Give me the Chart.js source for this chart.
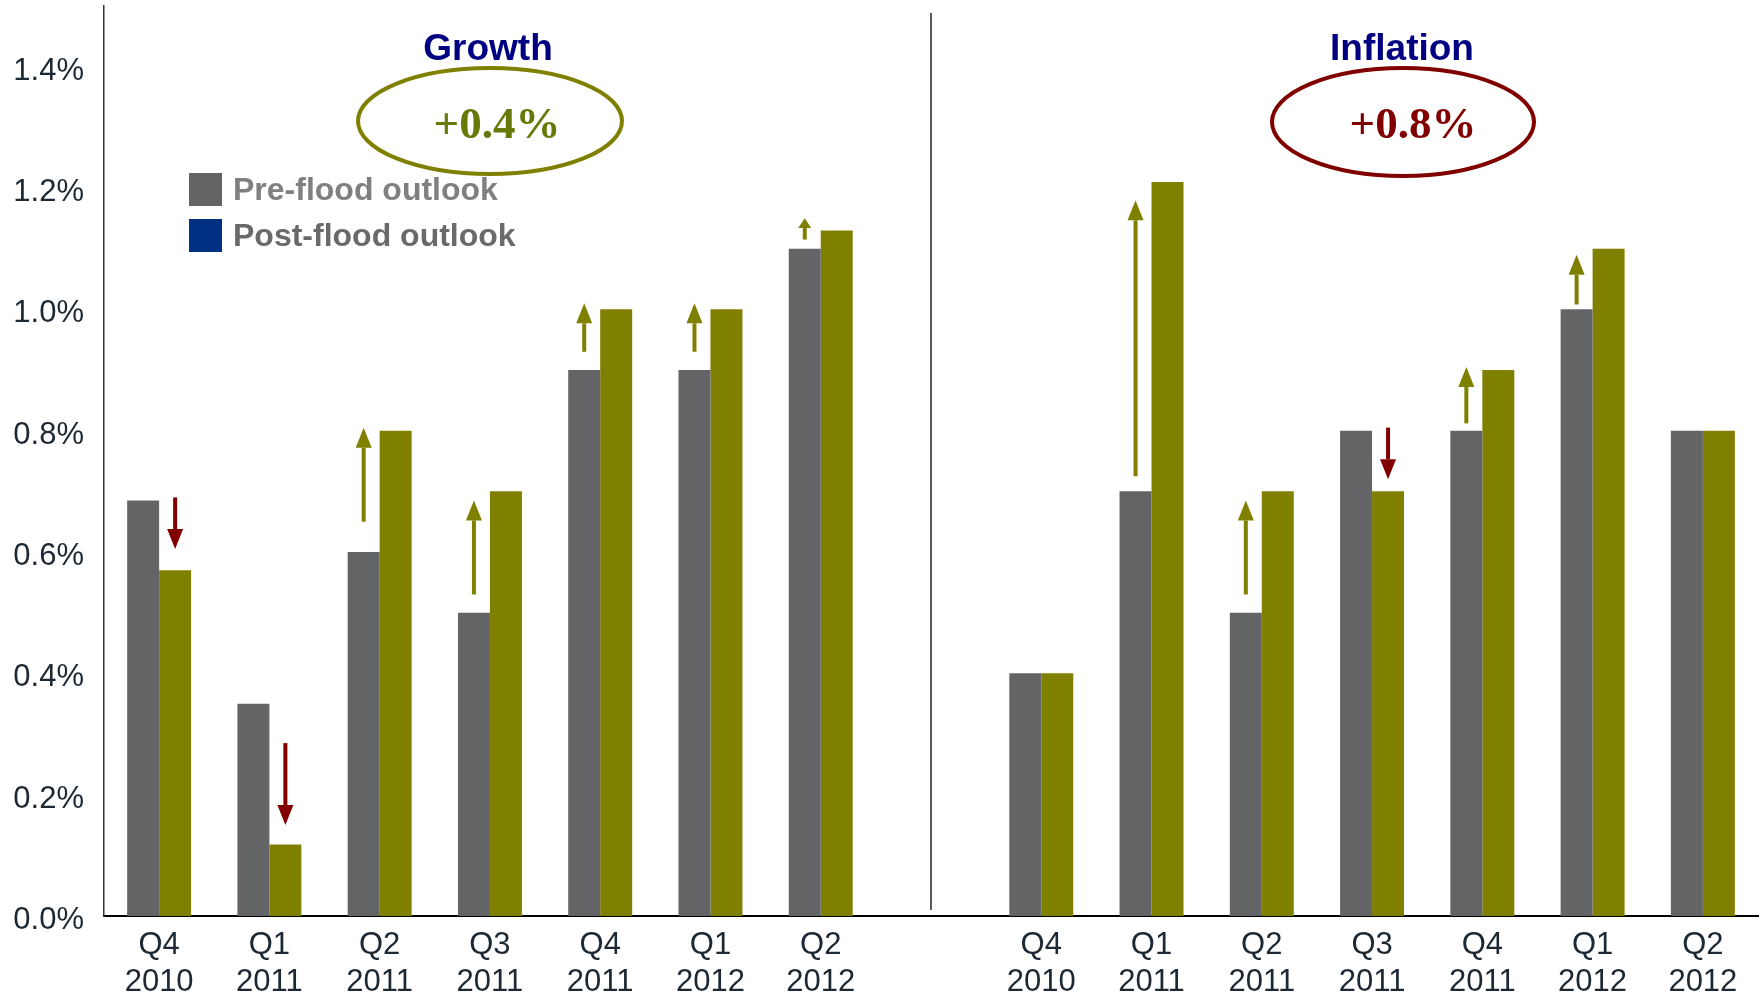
<!DOCTYPE html>
<html>
<head>
<meta charset="utf-8">
<title>Growth and inflation outlook</title>
<script src="https://cdn.jsdelivr.net/npm/chart.js@4.4.1/dist/chart.umd.min.js"></script>
<style>
  html, body { margin: 0; padding: 0; background: #fff; }
  #wrap { width: 1762px; height: 997px; position: relative; }
</style>
</head>
<body>
<div id="wrap"><canvas id="chart"></canvas></div>
<script>
// quarters shown under each panel
const quarters = [["Q4", "2010"], ["Q1", "2011"], ["Q2", "2011"], ["Q3", "2011"], ["Q4", "2011"], ["Q1", "2012"], ["Q2", "2012"]];
const seriesNames = ["Pre-flood outlook", "Post-flood outlook"];
const panelTitles = ["Growth", "Inflation"];
const panelChanges = ["+0.4%", "+0.8%"];
const yTickValues = [0, 0.2, 0.4, 0.6, 0.8, 1.0, 1.2, 1.4];

// values in %
const growthPre = [0.685, 0.35, 0.6, 0.5, 0.9, 0.9, 1.1];
const growthPost = [0.57, 0.118, 0.8, 0.7, 1.0, 1.0, 1.13];
const inflationPre = [0.4, 0.7, 0.5, 0.8, 0.8, 1.0, 0.8];
const inflationPost = [0.4, 1.21, 0.7, 0.7, 0.9, 1.1, 0.8];

// revision arrows (start / tip, in %), null = no arrow
const growthArrowFrom = [0.69, 0.285, 0.65, 0.53, 0.93, 0.93, 1.115];
const growthArrowTo = [0.605, 0.15, 0.805, 0.685, 1.01, 1.01, 1.15];
const inflationArrowFrom = [null, 0.725, 0.53, 0.805, 0.812, 1.008, null];
const inflationArrowTo = [null, 1.18, 0.685, 0.72, 0.905, 1.09, null];

const GRAY = "#636466";
const OLIVE = "#808000";
const DARKRED = "#800000";
const NAVY = "#000080";
const TEXT = "#1c2833";
const SANS = "'Liberation Sans', Arial, sans-serif";
const SERIF = "'Liberation Serif', 'Times New Roman', serif";

// one category axis, the empty middle slot separates the two panels
const labels = [...quarters, "", ...quarters];
const preData = [...growthPre, null, ...inflationPre];
const postData = [...growthPost, null, ...inflationPost];
const arrowFrom = [...growthArrowFrom, null, ...inflationArrowFrom];
const arrowTo = [...growthArrowTo, null, ...inflationArrowTo];

function drawArrow(ctx, x, y0, y1, color) {
  const dir = y1 > y0 ? 1 : -1;
  const len = Math.abs(y1 - y0);
  const headLen = Math.min(20, len * 0.45);
  const halfW = headLen > 12 ? 8 : 6.5;
  ctx.strokeStyle = color;
  ctx.fillStyle = color;
  ctx.lineWidth = 4;
  ctx.beginPath();
  ctx.moveTo(x, y0);
  ctx.lineTo(x, y1 - dir * headLen);
  ctx.stroke();
  ctx.beginPath();
  ctx.moveTo(x, y1);
  ctx.lineTo(x - halfW, y1 - dir * headLen);
  ctx.lineTo(x + halfW, y1 - dir * headLen);
  ctx.closePath();
  ctx.fill();
}

const overlay = {
  id: "overlay",
  afterDatasetsDraw(chart) {
    const ctx = chart.ctx;
    const y = chart.scales.y;
    const x = chart.scales.x;
    const area = chart.chartArea;
    ctx.save();

    // divider between growth and inflation
    const midX = x.getPixelForValue(quarters.length);
    ctx.strokeStyle = "#222";
    ctx.lineWidth = 1.5;
    ctx.beginPath();
    ctx.moveTo(midX, area.top + 7);
    ctx.lineTo(midX, area.bottom - 6);
    ctx.stroke();

    // arrows: up ones sit over the pre-flood bar, down ones over the post-flood bar
    const pre = chart.getDatasetMeta(0).data;
    const post = chart.getDatasetMeta(1).data;
    arrowFrom.forEach((from, i) => {
      const to = arrowTo[i];
      if (from == null || to == null) return;
      const down = to < from;
      const bx = down ? post[i].x : pre[i].x;
      drawArrow(ctx, bx, y.getPixelForValue(from), y.getPixelForValue(to), down ? DARKRED : OLIVE);
    });

    // panel titles
    ctx.textAlign = "center";
    ctx.textBaseline = "middle";
    ctx.fillStyle = NAVY;
    ctx.font = "bold 37px " + SANS;
    ctx.fillText(panelTitles[0], 488, 50);
    ctx.fillText(panelTitles[1], 1402, 50);

    // circled revisions
    ctx.lineWidth = 4;
    ctx.strokeStyle = OLIVE;
    ctx.beginPath();
    ctx.ellipse(490, 121, 132, 53, 0, 0, Math.PI * 2);
    ctx.stroke();
    ctx.strokeStyle = DARKRED;
    ctx.beginPath();
    ctx.ellipse(1403, 122, 131, 54, 0, 0, Math.PI * 2);
    ctx.stroke();

    ctx.font = "bold 45px " + SERIF;
    ctx.fillStyle = "#667a0a";
    ctx.fillText(panelChanges[0], 497, 126);
    ctx.fillStyle = DARKRED;
    ctx.fillText(panelChanges[1], 1413, 126);

    // legend (the post-flood key is blue in the original)
    ctx.textAlign = "left";
    ctx.font = "bold 32px " + SANS;
    ctx.fillStyle = GRAY;
    ctx.fillRect(189, 173, 33, 33);
    ctx.fillStyle = "#003082";
    ctx.fillRect(189, 219, 33, 33);
    ctx.fillStyle = "#808080";
    ctx.fillText(seriesNames[0], 233, 191);
    ctx.fillStyle = "#6a6a6c";
    ctx.fillText(seriesNames[1], 233, 237);

    ctx.restore();
  }
};

const ctx = document.getElementById("chart").getContext("2d");
new Chart(ctx, {
  type: "bar",
  data: {
    labels: labels,
    datasets: [
      { label: seriesNames[0], data: preData, backgroundColor: GRAY },
      { label: seriesNames[1], data: postData, backgroundColor: OLIVE }
    ]
  },
  options: {
    responsive: true,
    maintainAspectRatio: false,
    devicePixelRatio: 1,
    animation: false,
    layout: { padding: { top: 6, right: 4, left: 0, bottom: 0 } },
    datasets: {
      bar: { categoryPercentage: 0.58, barPercentage: 1.0 }
    },
    plugins: {
      legend: { display: false },
      tooltip: { enabled: false }
    },
    scales: {
      x: {
        grid: { display: false, drawTicks: false },
        border: { display: true, color: "#000", width: 2 },
        ticks: {
          color: TEXT,
          font: { family: SANS, size: 31 },
          padding: 11,
          maxRotation: 0,
          autoSkip: false
        },
        afterFit(scale) {
          scale.height = 81;
          scale.paddingLeft = 0;
          scale.paddingRight = 0;
        }
      },
      y: {
        min: 0,
        max: 1.5,
        grid: { display: false, drawTicks: false },
        border: { display: true, color: "#333", width: 1.5 },
        afterBuildTicks(scale) {
          scale.ticks = yTickValues.map(v => ({ value: v }));
        },
        ticks: {
          color: TEXT,
          font: { family: SANS, size: 31 },
          padding: 20,
          labelOffset: 4.5,
          callback: value => value.toFixed(1) + "%"
        },
        afterFit(scale) {
          scale.width = 104;
          scale.paddingTop = 0;
          scale.paddingBottom = 0;
        }
      }
    }
  },
  plugins: [overlay]
});
</script>
</body>
</html>
